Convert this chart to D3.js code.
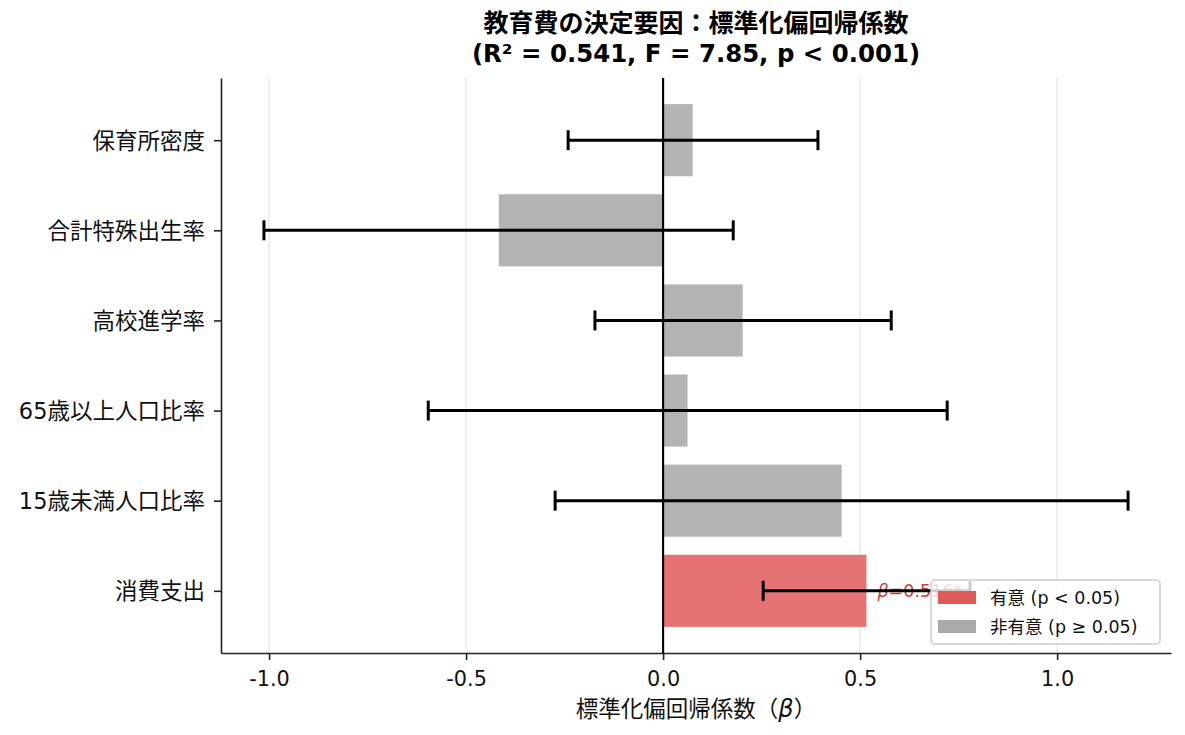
<!DOCTYPE html>
<html lang="ja">
<head>
<meta charset="UTF-8">
<script src="https://d3js.org/d3.v7.min.js"></script>
<title>教育費の決定要因</title>
<style>
  body { margin: 0; background: #fff; }
  svg text { font-family: "DejaVu Sans", "Noto Sans CJK JP", sans-serif; }
</style>
</head>
<body>
<svg id="chart" width="1185" height="735"></svg>
<script>
// data, top to bottom
const variables = ["保育所密度", "合計特殊出生率", "高校進学率", "65歳以上人口比率", "15歳未満人口比率", "消費支出"];
const beta      = [0.075, -0.417, 0.202, 0.062, 0.453, 0.516];
const ciLow     = [-0.241, -1.013, -0.173, -0.596, -0.274, 0.254];
const ciHigh    = [0.393, 0.178, 0.579, 0.721, 1.180, 0.779];
const significant = [false, false, false, false, false, true];
const xTicks    = [-1.0, -0.5, 0.0, 0.5, 1.0];
const titleLines = ["教育費の決定要因：標準化偏回帰係数", "(R² = 0.541, F = 7.85, p < 0.001)"];
const legendLabels = ["有意 (p < 0.05)", "非有意 (p ≥ 0.05)"];

const svg = d3.select("#chart");
const margin = {top: 78, right: 14, bottom: 82, left: 221};
const W = +svg.attr("width"), H = +svg.attr("height");

const x = d3.scaleLinear()
    .domain([-1.122, 1.289])
    .range([margin.left, W - margin.right]);

// barh positions like matplotlib: index 0..n-1, bottom item at index 0
const n = variables.length;
const y = d3.scaleLinear()
    .domain([-0.69, n - 1 + 0.69])
    .range([H - margin.bottom, margin.top]);
const pos = i => n - 1 - i;
const barH = y(0) - y(0.8);

// grid
svg.append("g")
  .selectAll("line")
  .data(xTicks)
  .join("line")
    .attr("x1", d => x(d)).attr("x2", d => x(d))
    .attr("y1", margin.top).attr("y2", H - margin.bottom)
    .attr("stroke", "#ebebeb").attr("stroke-width", 1.6);

// bars
svg.append("g")
  .selectAll("rect")
  .data(variables)
  .join("rect")
    .attr("x", (d, i) => Math.min(x(0), x(beta[i])))
    .attr("width", (d, i) => Math.abs(x(beta[i]) - x(0)))
    .attr("y", (d, i) => y(pos(i)) - barH / 2)
    .attr("height", barH)
    .attr("fill", (d, i) => significant[i] ? "#e57373" : "#b3b3b3");

// zero line
svg.append("line")
  .attr("x1", x(0)).attr("x2", x(0))
  .attr("y1", margin.top).attr("y2", H - margin.bottom)
  .attr("stroke", "#000").attr("stroke-width", 2.1);

// annotation for significant
variables.forEach((d, i) => {
  if (!significant[i]) return;
  const t = svg.append("text")
    .attr("x", x(beta[i] + 0.028))
    .attr("y", y(pos(i)) + 6)
    .attr("font-size", 17.5)
    .attr("fill", "#cd3c3c");
  t.append("tspan").attr("font-style", "italic").text("β");
  t.append("tspan").text("=" + beta[i].toFixed(3) + "*");
});

// error bars
const cap = 10;
const eb = svg.append("g").attr("stroke", "#000").attr("stroke-width", 3);
variables.forEach((d, i) => {
  const cy = y(pos(i));
  eb.append("line").attr("x1", x(ciLow[i])).attr("x2", x(ciHigh[i])).attr("y1", cy).attr("y2", cy);
  eb.append("line").attr("x1", x(ciLow[i])).attr("x2", x(ciLow[i])).attr("y1", cy - cap).attr("y2", cy + cap);
  eb.append("line").attr("x1", x(ciHigh[i])).attr("x2", x(ciHigh[i])).attr("y1", cy - cap).attr("y2", cy + cap);
});

// axes
const xAxis = svg.append("g")
  .attr("transform", `translate(0,${H - margin.bottom})`)
  .call(d3.axisBottom(x).tickValues(xTicks).tickSize(7).tickSizeOuter(0));
xAxis.select(".domain").attr("stroke", "#222").attr("stroke-width", 1.6);
xAxis.selectAll(".tick line").attr("stroke", "#222").attr("stroke-width", 1.6);
xAxis.selectAll(".tick text")
  .attr("font-size", 20.8).attr("fill", "#111")
  .attr("y", 33).attr("dy", 0)
  .text(d => d.toFixed(1));

const yAxis = svg.append("g")
  .attr("transform", `translate(${margin.left},0)`)
  .call(d3.axisLeft(y).tickValues(d3.range(n)).tickFormat(k => variables[n - 1 - k]).tickSize(7).tickSizeOuter(0));
yAxis.select(".domain").attr("stroke", "#222").attr("stroke-width", 1.6);
yAxis.selectAll(".tick line").attr("stroke", "#222").attr("stroke-width", 1.6);
yAxis.selectAll(".tick text")
  .attr("font-size", 22.5).attr("fill", "#111")
  .attr("x", -16).attr("dy", "0.36em");

// axis label
const xl = svg.append("text")
  .attr("x", (margin.left + W - margin.right) / 2)
  .attr("y", 717)
  .attr("text-anchor", "middle")
  .attr("font-size", 22.5)
  .attr("fill", "#111");
xl.append("tspan").text("標準化偏回帰係数（");
xl.append("tspan").attr("font-style", "italic").attr("font-size", 24).text("β");
xl.append("tspan").text("）");

// title
svg.append("g").selectAll("text")
  .data(titleLines)
  .join("text")
    .attr("x", (margin.left + W - margin.right) / 2)
    .attr("y", (d, i) => 32 + i * 30)
    .attr("text-anchor", "middle")
    .attr("font-size", (d, i) => i ? 24.4 : 25)
    .attr("font-weight", "bold")
    .attr("fill", "#000")
    .text(d => d);

// legend
const lg = svg.append("g").attr("transform", "translate(931,580)");
lg.append("rect")
  .attr("width", 229).attr("height", 64).attr("rx", 4)
  .attr("fill", "rgba(255,255,255,0.8)")
  .attr("stroke", "#cccccc").attr("stroke-width", 1.5);
const legendColors = ["#e05a5a", "#aaaaaa"];
legendLabels.forEach((label, i) => {
  lg.append("rect")
    .attr("x", 7).attr("y", 11 + i * 29)
    .attr("width", 38).attr("height", 13)
    .attr("fill", legendColors[i]);
  lg.append("text")
    .attr("x", 59).attr("y", 24 + i * 29)
    .attr("font-size", 17.5)
    .attr("fill", "#111")
    .text(label);
});
</script>
</body>
</html>
